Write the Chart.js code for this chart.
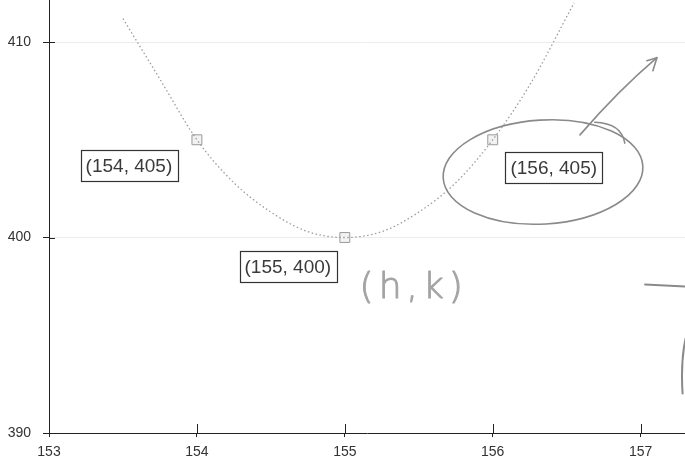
<!DOCTYPE html>
<html>
<head>
<meta charset="utf-8">
<script src="https://cdn.jsdelivr.net/npm/chart.js@4.4.1/dist/chart.umd.min.js"></script>
<style>
  html, body { margin: 0; padding: 0; background: #fff; }
  #wrap { width: 685px; height: 464px; }
</style>
</head>
<body>
<div id="wrap"><canvas id="grafica"></canvas></div>
<script>
// parabola traced through the vertex and its two neighbours
const curvaX = [153.5, 153.75, 154, 154.25, 154.5, 154.75, 155, 155.25, 155.5, 155.75, 156, 156.25, 156.55];
const curvaY = [411.2, 408.1, 405, 402.8, 401.3, 400.3, 400, 400.3, 401.3, 402.8, 405, 407.8, 412.0];

// marked points with their boxed labels
const puntosX = [154, 155, 156];
const puntosY = [405, 400, 405];
const etiquetas = ['(154, 405)', '(155, 400)', '(156, 405)'];

const ticksX = [153, 154, 155, 156, 157];
const ticksY = [390, 400, 410];

// where each label box sits relative to its point (px)
const desplaz = [[-68, 26], [-57, 29], [61, 28]];

const tinta = '#222';
const lapiz = '#8a8a8a';

const etiquetasPlugin = {
    id: 'etiquetas',
    afterDatasetsDraw(chart) {
        const ctx = chart.ctx;
        const sx = chart.scales.x, sy = chart.scales.y;
        ctx.save();
        ctx.font = '19px "Liberation Sans", Arial, sans-serif';
        ctx.textAlign = 'center';
        ctx.textBaseline = 'middle';
        puntosX.forEach((x, i) => {
            const cx = sx.getPixelForValue(x) + desplaz[i][0];
            const cy = sy.getPixelForValue(puntosY[i]) + desplaz[i][1];
            const w = ctx.measureText(etiquetas[i]).width + 10;
            const h = 31;
            ctx.fillStyle = '#fff';
            ctx.fillRect(cx - w / 2, cy - h / 2, w, h);
            ctx.strokeStyle = '#333';
            ctx.lineWidth = 1.2;
            ctx.strokeRect(Math.round(cx - w / 2) + 0.5, Math.round(cy - h / 2) + 0.5, Math.round(w), h);
            ctx.fillStyle = '#3a3a3a';
            ctx.fillText(etiquetas[i], cx, cy + 1);
        });
        ctx.restore();
    },
    afterDraw(chart) {
        const ctx = chart.ctx;
        const sx = chart.scales.x, sy = chart.scales.y;
        const ejeX = sx.getPixelForValue(153);
        const ejeY = sy.getPixelForValue(390);

        // inner halves of the tick marks
        ctx.save();
        ctx.strokeStyle = tinta;
        ctx.lineWidth = 1;
        ticksX.forEach(v => {
            const px = Math.round(sx.getPixelForValue(v)) + 0.5;
            ctx.beginPath();
            ctx.moveTo(px, ejeY);
            ctx.lineTo(px, ejeY - 9);
            ctx.stroke();
        });
        ticksY.forEach(v => {
            const py = Math.round(sy.getPixelForValue(v)) + 0.5;
            ctx.beginPath();
            ctx.moveTo(ejeX, py);
            ctx.lineTo(ejeX + 6, py);
            ctx.stroke();
        });

        // pencil notes on top of the plot
        ctx.strokeStyle = lapiz;
        ctx.lineWidth = 1.6;
        ctx.lineCap = 'round';
        ctx.lineJoin = 'round';
        const p = (x, y) => [sx.getPixelForValue(x), sy.getPixelForValue(y)];

        // loop around the right-hand point
        const [ex, ey] = p(156.34, 403.35);
        ctx.beginPath();
        ctx.ellipse(ex, ey, 100, 52, -0.06, 0, 2 * Math.PI);
        ctx.stroke();
        const [fx, fy] = p(156.69, 405.9);
        ctx.beginPath();
        ctx.moveTo(fx, fy);
        ctx.quadraticCurveTo(fx + 27, fy + 1, fx + 30, fy + 21);
        ctx.stroke();

        // arrow pointing up-right
        const [a0x, a0y] = p(156.59, 405.25);
        const [a1x, a1y] = p(157.11, 409.2);
        ctx.beginPath();
        ctx.moveTo(a0x, a0y);
        ctx.quadraticCurveTo(a0x + 38, a0y - 44, a1x, a1y);
        ctx.stroke();
        ctx.beginPath();
        ctx.moveTo(a1x - 10, a1y + 3);
        ctx.lineTo(a1x, a1y);
        ctx.lineTo(a1x - 4, a1y + 13);
        ctx.stroke();

        // vertex note
        const [hx, hy] = p(155.1, 397.4);
        ctx.fillStyle = '#a4a4a4';
        ctx.strokeStyle = '#a4a4a4';
        ctx.lineWidth = 1;
        ctx.font = '200 36px "DejaVu Sans", sans-serif';
        ctx.letterSpacing = '5px';
        ctx.textAlign = 'left';
        ctx.textBaseline = 'middle';
        ctx.fillText('(h,k)', hx, hy);
        ctx.strokeText('(h,k)', hx, hy);

        // stray marks at the right edge
        ctx.strokeStyle = lapiz;
        ctx.lineWidth = 2;
        const [rx, ry] = p(157.03, 397.6);
        ctx.beginPath();
        ctx.moveTo(rx, ry);
        ctx.lineTo(rx + 40, ry + 2);
        ctx.stroke();
        const [qx, qy] = p(157.27, 393.4);
        ctx.beginPath();
        ctx.moveTo(qx + 5, qy - 28);
        ctx.quadraticCurveTo(qx, qy - 5, qx + 2, qy + 27);
        ctx.stroke();
        ctx.restore();
    }
};

new Chart(document.getElementById('grafica'), {
    type: 'scatter',
    data: {
        datasets: [{
            type: 'line',
            data: curvaX.map((x, i) => ({ x, y: curvaY[i] })),
            borderColor: '#9c9c9c',
            borderWidth: 1.3,
            borderDash: [1.5, 2.5],
            tension: 0.4,
            cubicInterpolationMode: 'monotone',
            pointRadius: 0,
            fill: false
        }, {
            data: puntosX.map((x, i) => ({ x, y: puntosY[i] })),
            pointStyle: 'rect',
            pointRadius: 7,
            borderWidth: 1,
            borderColor: '#9a9a9a',
            backgroundColor: '#f2f2f2'
        }]
    },
    options: {
        responsive: true,
        maintainAspectRatio: false,
        animation: false,
        layout: { padding: 0, autoPadding: false },
        plugins: {
            legend: { display: false },
            tooltip: { enabled: false }
        },
        scales: {
            x: {
                type: 'linear',
                min: 153,
                max: 157.3,
                afterBuildTicks: s => { s.ticks = ticksX.map(value => ({ value })); },
                afterFit: s => {
                    s.height = 31;
                    s.paddingLeft = 0;
                    s.paddingRight = 0;
                },
                border: { color: tinta, width: 1 },
                grid: { drawOnChartArea: false, tickLength: 4, color: tinta },
                ticks: {
                    padding: 7,
                    color: '#333',
                    font: { family: '"Liberation Sans", Arial, sans-serif', size: 14 },
                    maxRotation: 0
                }
            },
            y: {
                min: 390,
                max: 412.15,
                afterBuildTicks: s => { s.ticks = ticksY.map(value => ({ value })); },
                afterFit: s => {
                    s.width = 49;
                    s.paddingTop = 0;
                    s.paddingBottom = 0;
                },
                border: { color: tinta, width: 1 },
                grid: {
                    tickLength: 6,
                    color: ctx => ctx.tick && ctx.tick.value === 390 ? 'rgba(0,0,0,0)' : '#ececec',
                    tickColor: tinta
                },
                ticks: {
                    padding: 12,
                    color: '#333',
                    font: { family: '"Liberation Sans", Arial, sans-serif', size: 14 }
                }
            }
        }
    },
    plugins: [etiquetasPlugin]
});
</script>
</body>
</html>
